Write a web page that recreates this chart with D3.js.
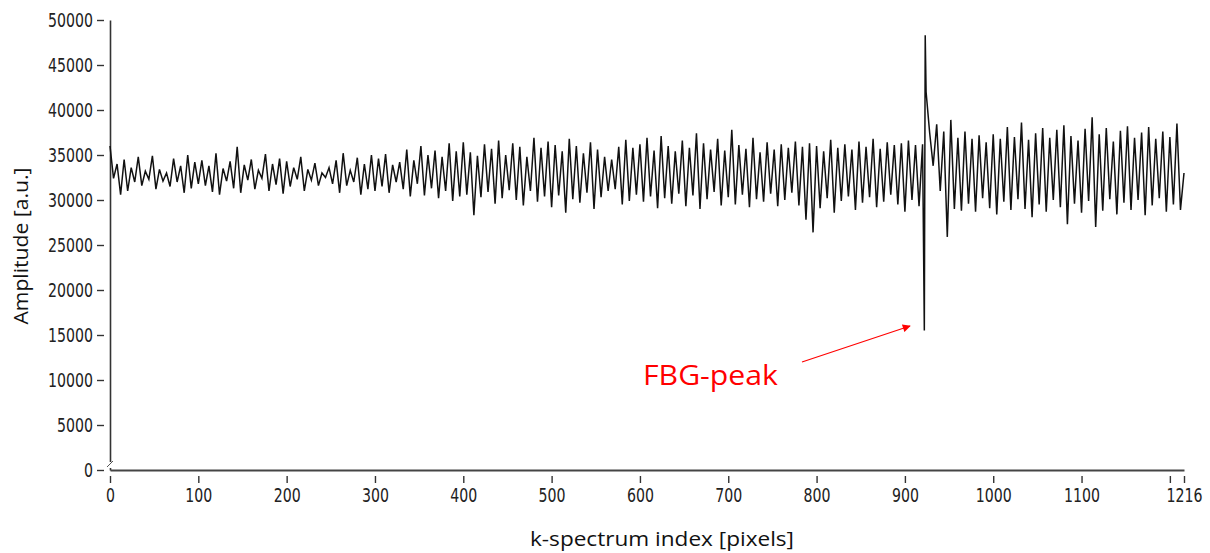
<!DOCTYPE html>
<html>
<head>
<meta charset="utf-8">
<script src="https://cdn.jsdelivr.net/npm/d3@7"></script>
<style>
  body { margin: 0; background: #fff; }
  .tickfont { font-family: "DejaVu Sans Condensed", "DejaVu Sans", sans-serif; font-size: 19px; fill: #222; }
  .title { font-family: "Open Sans", "Noto Sans", sans-serif; font-size: 20px; fill: #111; }
</style>
</head>
<body>
<svg width="1210" height="553"></svg>
<script>
// sample spacing of the trace (k-spectrum index units)
var step = 4;

// amplitude, one value every 4 indices from 0 to 1216
var amplitude = [
  // 0 - 96
  36000, 32400, 34000, 30600, 34500, 31000, 33600, 32000, 34800, 31600, 33200, 32300, 34900, 31200, 33400, 32100, 33000, 31500, 34600, 32000, 33800, 30800, 35000, 31300, 34200,
  // 100 - 196
  31800, 34400, 31600, 33800, 30900, 35200, 30600, 33500, 32100, 34300, 31300, 35900, 30800, 33900, 32200, 34500, 31200, 33300, 32400, 35100, 31000, 34000, 31700, 34600, 30700,
  // 200 - 296
  34300, 31500, 33600, 32300, 34800, 31000, 33400, 32200, 34100, 31600, 33000, 32500, 33600, 31800, 34400, 30800, 35200, 31600, 33300, 32000, 34700, 30600, 34000, 31200, 35000,
  // 300 - 396
  31000, 34600, 31500, 35100, 30800, 33900, 32000, 34200, 31200, 35600, 30400, 34400, 31800, 36000, 30500, 35000, 31300, 35500, 30200, 34800, 31000, 36300, 29900, 35400, 30400,
  // 400 - 496
  36400, 30600, 35300, 28300, 34900, 30300, 36200, 30900, 35700, 29600, 36600, 30200, 35000, 31100, 36300, 30000, 35900, 29400, 34800, 31000, 36900, 29800, 35800, 30400, 36500,
  // 500 - 596
  29200, 36100, 30500, 35400, 28600, 36800, 30100, 36000, 29700, 35200, 30800, 36400, 29000, 35600, 30300, 34800, 31000, 34500, 31200, 35900, 29500, 36700, 29900, 35800, 30600,
  // 600 - 696
  36200, 29800, 36900, 30400, 35500, 29100, 37100, 30200, 36000, 29600, 35400, 30700, 36600, 29300, 35800, 30500, 37400, 29000, 36300, 30100, 35600, 30900, 36800, 29400, 35500,
  // 700 - 796
  30300, 37800, 29500, 36100, 30600, 35700, 29200, 36900, 30100, 35300, 29800, 36400, 30700, 35600, 29300, 36200, 30000, 35800, 30800, 36500, 29400, 35900, 27800, 36300, 26400,
  // 800 - 896
  36000, 29100, 35400, 30200, 36700, 28600, 35800, 29900, 36200, 30400, 35600, 28900, 36500, 29700, 35900, 30300, 36800, 29200, 35700, 29800, 36400, 30600, 36100, 29500, 36300,
  // 900 - 996
  28700, 36600, 30000, 36100, 29300, 36200, 42000, 37500, 33800, 38400, 31000, 37600, 25900, 38900, 29000, 36900, 28800, 37600, 29600, 36800, 28700, 37200, 30200, 36400, 29100,
  // 1000 - 1096
  37300, 28400, 36800, 29800, 38100, 28900, 37000, 30100, 38600, 29000, 36700, 28100, 37400, 29500, 38000, 28700, 36900, 30000, 37800, 29200, 38300, 27300, 37100, 29600, 36600,
  // 1100 - 1196
  28600, 37900, 29900, 39200, 27000, 37300, 28800, 38000, 30100, 36500, 28400, 37700, 29700, 38200, 28900, 36900, 30000, 37500, 28300, 38100, 29400, 36800, 30200, 37600, 28700,
  // 1200 - 1216
  37000, 29500, 38500, 28900, 33000
];

// the FBG peak itself, sampled between the regular points
var fbgIndex = [922, 923];
var fbgValue = [15500, 48300];

var xTicks = [0, 100, 200, 300, 400, 500, 600, 700, 800, 900, 1000, 1100, 1200, 1216];
var xTickLabels = ['0', '100', '200', '300', '400', '500', '600', '700', '800', '900', '1000', '1100', '', '1216'];
var yTicks = [0, 5000, 10000, 15000, 20000, 25000, 30000, 35000, 40000, 45000, 50000];

var points = amplitude.map(function(v, i) { return [i * step, v]; })
    .concat(fbgIndex.map(function(k, i) { return [k, fbgValue[i]]; }))
    .sort(function(a, b) { return a[0] - b[0]; });

var svg = d3.select('svg');

var x = d3.scaleLinear().domain([0, 1216]).range([110, 1184]);
var y = d3.scaleLinear().domain([0, 50000]).range([470, 20]);

// y axis
var yAxis = svg.append('g')
    .attr('transform', 'translate(110,0)')
    .call(d3.axisLeft(y).tickValues(yTicks).tickSize(0).tickPadding(17).tickFormat(d3.format('d')));
yAxis.select('.domain').attr('stroke', '#333').attr('stroke-width', 1.6);
yAxis.selectAll('.tick text')
    .attr('class', 'tickfont')
    .attr('textLength', function(d) { return String(d).length * 9; })
    .attr('lengthAdjust', 'spacingAndGlyphs');
yAxis.selectAll('.tick').append('line')
    .attr('x1', -13).attr('x2', -6)
    .attr('stroke', '#333').attr('stroke-width', 1.4);
yAxis.attr('font-family', null).attr('font-size', null);

// x axis
var xAxis = svg.append('g')
    .attr('transform', 'translate(0,470)')
    .call(d3.axisBottom(x).tickValues(xTicks).tickSize(0).tickPadding(19)
        .tickFormat(function(d, i) { return xTickLabels[i]; }));
xAxis.select('.domain').attr('stroke', '#444').attr('stroke-width', 2.2);
xAxis.selectAll('.tick text')
    .attr('class', 'tickfont')
    .attr('textLength', function(d, i) { return Math.max(xTickLabels[i].length * 9, 1); })
    .attr('lengthAdjust', 'spacingAndGlyphs');
xAxis.selectAll('.tick').append('line')
    .attr('y1', 6).attr('y2', 13)
    .attr('stroke', '#333').attr('stroke-width', 1.4);
xAxis.attr('font-family', null).attr('font-size', null);

// axis break mark at the origin
svg.append('rect').attr('x', 107).attr('y', 462).attr('width', 6).attr('height', 6).attr('fill', '#fff');
svg.append('line').attr('x1', 107).attr('y1', 467).attr('x2', 113).attr('y2', 461)
    .attr('stroke', '#555').attr('stroke-width', 1);

// trace
var line = d3.line()
    .x(function(d) { return x(d[0]); })
    .y(function(d) { return y(d[1]); });

svg.append('path')
    .datum(points)
    .attr('fill', 'none')
    .attr('stroke', '#111')
    .attr('stroke-width', 1.5)
    .attr('d', line);

// axis titles
svg.append('text')
    .attr('class', 'title')
    .attr('transform', 'translate(28,246) rotate(-90)')
    .attr('text-anchor', 'middle')
    .attr('textLength', 157)
    .attr('lengthAdjust', 'spacingAndGlyphs')
    .text('Amplitude [a.u.]');

svg.append('text')
    .attr('class', 'title')
    .attr('x', 662).attr('y', 546)
    .attr('text-anchor', 'middle')
    .attr('textLength', 264)
    .attr('lengthAdjust', 'spacingAndGlyphs')
    .text('k-spectrum index [pixels]');

// annotation
var defs = svg.append('defs');
defs.append('marker')
    .attr('id', 'head')
    .attr('viewBox', '0 0 10 10')
    .attr('refX', 9).attr('refY', 5)
    .attr('markerWidth', 9).attr('markerHeight', 8)
    .attr('markerUnits', 'userSpaceOnUse')
    .attr('orient', 'auto')
    .append('path')
    .attr('d', 'M0,0L10,5L0,10Z')
    .attr('fill', '#f00');

svg.append('line')
    .attr('x1', 802).attr('y1', 362)
    .attr('x2', 910).attr('y2', 326)
    .attr('stroke', '#f00')
    .attr('stroke-width', 1.2)
    .attr('marker-end', 'url(#head)');

svg.append('text')
    .attr('x', 643).attr('y', 385)
    .attr('fill', '#f00')
    .attr('font-family', '"Open Sans", "Noto Sans", sans-serif')
    .attr('font-size', 27)
    .attr('textLength', 135)
    .attr('lengthAdjust', 'spacingAndGlyphs')
    .text('FBG-peak');
</script>
</body>
</html>
